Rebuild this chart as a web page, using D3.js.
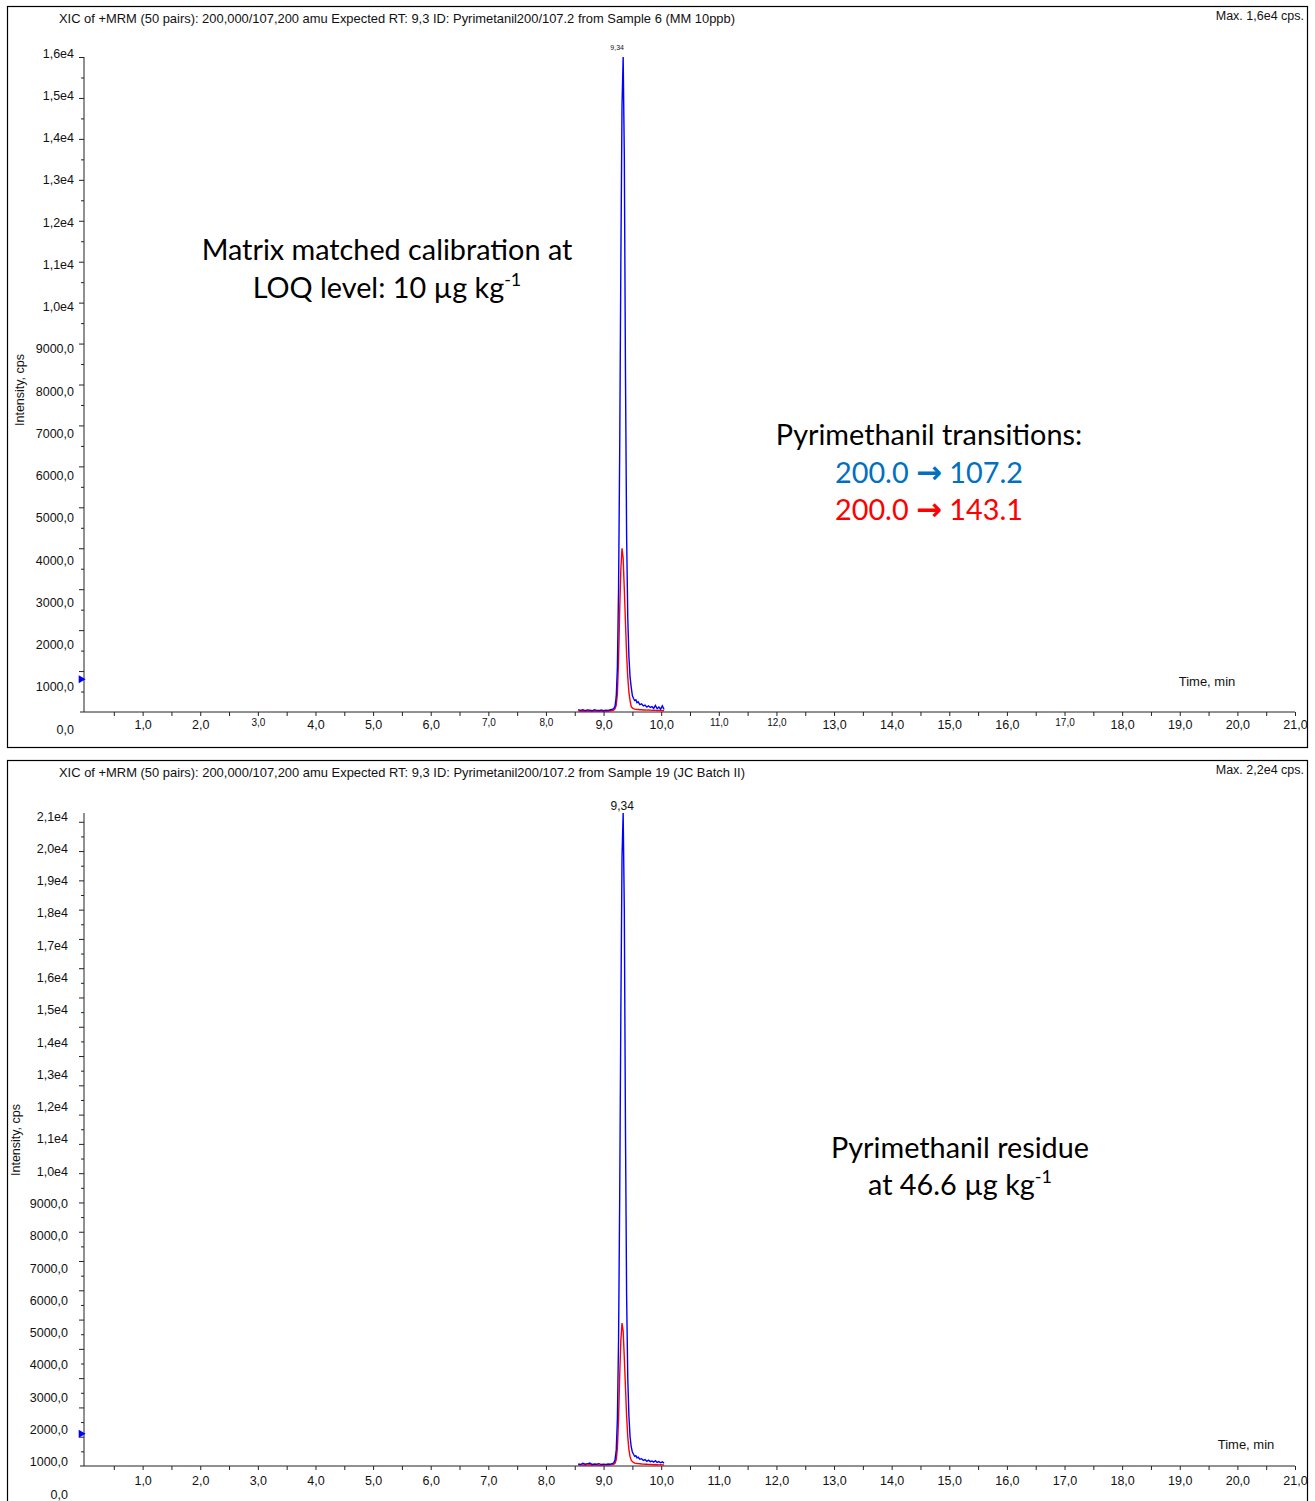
<!DOCTYPE html>
<html>
<head>
<meta charset="utf-8">
<script src="https://cdn.jsdelivr.net/npm/d3@7/dist/d3.min.js"></script>
<style>
body { margin: 0; background: #fff; }
text { font-family: "Liberation Sans", Arial, sans-serif; fill: #111; }
.note { font-family: Lato, "Open Sans", sans-serif; }
.axis path, .axis line { stroke: #222; }
</style>
</head>
<body>
<div id="chart"></div>
<script>
// sample times, min (same scan times for both transitions)
var times = [8.56, 8.60, 8.64, 8.68, 8.72, 8.76, 8.80, 8.84, 8.88, 8.92, 8.96, 9.00, 9.04, 9.08, 9.12, 9.16,
	9.18, 9.20, 9.22, 9.24, 9.26, 9.28, 9.30, 9.32, 9.34, 9.36, 9.38, 9.40, 9.42, 9.44, 9.46, 9.48, 9.50, 9.52, 9.54, 9.56, 9.58, 9.60,
	9.63, 9.66, 9.69, 9.72, 9.75, 9.78, 9.81, 9.84, 9.87, 9.90, 9.93, 9.96, 9.99, 10.02, 10.05];

// top run: Sample 6 (MM 10ppb)
var blueTop = [60, 40, 55, 35, 50, 45, 30, 55, 40, 35, 50, 30, 45, 40, 55, 70,
	90, 150, 380, 1100, 3000, 6400, 11000, 14800, 16000, 13600, 8300, 4300, 2300, 1350, 850, 600, 400, 330, 280, 300, 230, 250,
	180, 200, 150, 170, 120, 150, 110, 130, 90, 160, 80, 120, 70, 150, 60];
var redTop = [30, 20, 25, 15, 20, 25, 15, 20, 25, 15, 20, 20, 25, 20, 30, 35,
	50, 80, 170, 450, 1250, 2500, 3500, 4000, 3750, 3000, 2200, 1400, 850, 480, 280, 130, 100, 80, 70, 65, 60, 60,
	55, 55, 50, 50, 45, 50, 45, 40, 45, 40, 35, 40, 35, 30, 30];

// bottom run: Sample 19 (JC Batch II)
var blueBottom = [70, 50, 90, 60, 75, 100, 55, 70, 60, 80, 50, 65, 55, 70, 60, 90,
	120, 220, 550, 1600, 4300, 9200, 15500, 20800, 22300, 19000, 11500, 5800, 3000, 1700, 1000, 650, 480, 400, 330, 350, 280, 300,
	230, 250, 190, 220, 160, 200, 150, 170, 130, 180, 120, 150, 110, 140, 100];
var redBottom = [40, 30, 35, 25, 30, 40, 25, 30, 35, 25, 30, 25, 35, 30, 40, 45,
	60, 100, 220, 600, 1600, 3100, 4300, 4880, 4600, 3700, 2700, 1700, 1000, 560, 320, 200, 150, 120, 100, 90, 85, 80,
	75, 70, 65, 60, 60, 55, 50, 55, 45, 50, 45, 40, 45, 40, 35];

// axis ticks / labels
var timeLabels = [1, 2, 3, 4, 5, 6, 7, 8, 9, 10, 11, 12, 13, 14, 15, 16, 17, 18, 19, 20, 21];
var timeMinor = [0.5, 1, 1.5, 2, 2.5, 3, 3.5, 4, 4.5, 5, 5.5, 6, 6.5, 7, 7.5, 8, 8.5, 9, 9.5, 10, 10.5, 11, 11.5, 12, 12.5,
	13, 13.5, 14, 14.5, 15, 15.5, 16, 16.5, 17, 17.5, 18, 18.5, 19, 19.5, 20, 20.5, 21];
var smallTimeLabelsTop = [3, 7, 8, 11, 12, 17];
var intensityTop = [0, 1000, 2000, 3000, 4000, 5000, 6000, 7000, 8000, 9000, 10000, 11000, 12000, 13000, 14000, 15000, 16000];
var intensityBottom = [0, 1000, 2000, 3000, 4000, 5000, 6000, 7000, 8000, 9000, 10000, 11000, 12000, 13000, 14000, 15000,
	16000, 17000, 18000, 19000, 20000, 21000];

var headers = [
	"XIC of +MRM (50 pairs): 200,000/107,200 amu Expected RT: 9,3 ID: Pyrimetanil200/107.2 from Sample 6 (MM 10ppb)",
	"XIC of +MRM (50 pairs): 200,000/107,200 amu Expected RT: 9,3 ID: Pyrimetanil200/107.2 from Sample 19 (JC Batch II)"
];
var maxLabels = ["Max. 1,6e4 cps.", "Max. 2,2e4 cps."];
var peakRT = 9.34;
var thresholdMarks = [800, 1100];

var BLUE = "#0000ff", RED = "#ff0000";

var svg = d3.select("#chart").append("svg")
	.attr("width", 1315)
	.attr("height", 1501);

function fmtIntensity(v) {
	if (v >= 10000) return (v / 10000).toFixed(1).replace(".", ",") + "e4";
	return v.toFixed(1).replace(".", ",");
}

//draw one chromatogram panel
function panel(o) {
	var g = svg.append("g");

	g.append("rect")
		.attr("x", 7.5).attr("y", o.boxTop + 0.5)
		.attr("width", 1300).attr("height", o.boxH)
		.attr("fill", "none").attr("stroke", "#000").attr("stroke-width", 1.2);

	g.append("text").attr("x", 59).attr("y", o.boxTop + 16.5)
		.attr("font-size", 13).attr("textLength", o.headerW).attr("lengthAdjust", "spacingAndGlyphs")
		.text(o.header);
	g.append("text").attr("x", 1304).attr("y", o.boxTop + 14)
		.attr("font-size", 12.5).attr("text-anchor", "end").text(o.maxLabel);

	var x = d3.scaleLinear().domain([0, 21]).range([85, 1295]);
	var y = d3.scaleLinear().domain([0, o.yMax]).range([o.y0, o.yTop]);
	// the printed labels sit on their own, slightly wider spacing
	var yLab = d3.scaleLinear().domain([0, o.labTicks[o.labTicks.length - 1]]).range(o.labRange);

	// x axis
	var xa = g.append("g").attr("class", "axis")
		.attr("transform", "translate(0," + o.y0 + ")")
		.call(d3.axisBottom(x).tickValues(timeMinor).tickSize(4).tickSizeOuter(0).tickFormat(""));
	xa.select(".domain").attr("d", "M80,0H1295");

	var xl = g.append("g")
		.attr("transform", "translate(0," + o.xLabY + ")")
		.call(d3.axisBottom(x).tickValues(timeLabels).tickSize(0).tickPadding(0)
			.tickFormat(function(d){ return d.toFixed(1).replace(".", ","); }));
	xl.select(".domain").remove();
	xl.selectAll("text").attr("font-size", function(d){
		return (o.small.indexOf(d) >= 0) ? 10 : 12.5;
	}).attr("fill", "#111").attr("font-family", "Liberation Sans, Arial, sans-serif")
		.attr("dy", function(d){ return (o.small.indexOf(d) >= 0) ? "0.3em" : "0.45em"; });

	// y axis
	var minor = [];
	for (var v = 500; v <= o.yMax; v += 500) minor.push(v);
	var ya = g.append("g").attr("class", "axis")
		.attr("transform", "translate(84,0)")
		.call(d3.axisLeft(y).tickValues(minor).tickSize(5).tickSizeOuter(0).tickFormat(""));
	ya.select(".domain").attr("d", "M0," + o.yTop + "V" + o.y0);
	ya.selectAll(".tick line").attr("x2", function(d){ return d % 1000 ? -3 : -5; });

	var yl = g.append("g")
		.attr("transform", "translate(" + o.labRight + ",0)")
		.call(d3.axisLeft(yLab).tickValues(o.labTicks).tickSize(0).tickPadding(0).tickFormat(fmtIntensity));
	yl.select(".domain").remove();
	yl.selectAll("text").attr("font-size", 12.5).attr("fill", "#111")
		.attr("font-family", "Liberation Sans, Arial, sans-serif");

	g.append("text")
		.attr("transform", "translate(" + o.yTitleX + "," + o.yTitleY + ") rotate(-90)")
		.attr("text-anchor", "middle").attr("font-size", 12.5).text("Intensity, cps");
	g.append("text").attr("x", o.timeX).attr("y", o.timeY)
		.attr("text-anchor", "middle").attr("font-size", 13).text("Time, min");

	// blue marker on the y axis
	g.append("path")
		.attr("d", d3.symbol().type(d3.symbolTriangle).size(28))
		.attr("transform", "translate(81," + y(o.mark) + ") rotate(90)")
		.attr("fill", BLUE);

	// traces
	var line = d3.line()
		.x(function(d, i){ return x(times[i]); })
		.y(function(d){ return y(d); });
	g.append("path").datum(o.red).attr("d", line)
		.attr("fill", "none").attr("stroke", RED).attr("stroke-width", 1.4);
	g.append("path").datum(o.blue).attr("d", line)
		.attr("fill", "none").attr("stroke", BLUE).attr("stroke-width", 1.4);

	g.append("text").attr("x", x(peakRT) + o.rtDx).attr("y", o.rtY)
		.attr("text-anchor", "middle").attr("font-size", o.rtSize)
		.text(peakRT.toFixed(2).replace(".", ","));

	return g;
}

var top = panel({
	boxTop: 6, boxH: 741, header: headers[0], headerW: 676, maxLabel: maxLabels[0],
	y0: 712, yTop: 57, yMax: 16000, labTicks: intensityTop, labRange: [729, 53], labRight: 74,
	xLabY: 723, small: smallTimeLabelsTop,
	yTitleX: 24, yTitleY: 390, timeX: 1207, timeY: 686,
	mark: thresholdMarks[0], blue: blueTop, red: redTop, rtY: 50, rtSize: 7, rtDx: -6
});

var bottom = panel({
	boxTop: 760, boxH: 750, header: headers[1], headerW: 686, maxLabel: maxLabels[1],
	y0: 1466, yTop: 813, yMax: 22300, labTicks: intensityBottom, labRange: [1494, 816], labRight: 68,
	xLabY: 1479, small: [],
	yTitleX: 20, yTitleY: 1140, timeX: 1246, timeY: 1449,
	mark: thresholdMarks[1], blue: blueBottom, red: redBottom, rtY: 810, rtSize: 12, rtDx: -1
});

// annotations
function note(x, yy, parts, color) {
	var el = svg.append("text").attr("class", "note")
		.attr("x", x).attr("y", yy).attr("text-anchor", "middle")
		.attr("font-size", 28.8).style("fill", color || "#000");
	parts.forEach(function(p){
		var t = el.append("tspan").text(p.t);
		if (p.sup) t.attr("font-size", 18).attr("dy", -12);
		if (p.arrow) t.attr("font-weight", 700).attr("font-family", "DejaVu Sans, sans-serif").attr("font-size", 31);
	});
	return el;
}

note(387, 260, [{t: "Matrix matched calibration at"}]);
note(387, 298, [{t: "LOQ level: 10 µg kg"}, {t: "-1", sup: true}]);
note(929, 445, [{t: "Pyrimethanil transitions:"}]);
note(929, 483, [{t: "200.0 "}, {t: "\u2192", arrow: true}, {t: " 107.2"}], "#0070c0");
note(929, 520, [{t: "200.0 "}, {t: "\u2192", arrow: true}, {t: " 143.1"}], "#ff0000");
note(960, 1158, [{t: "Pyrimethanil residue"}]);
note(960, 1195, [{t: "at 46.6 µg kg"}, {t: "-1", sup: true}]);
</script>
</body>
</html>
